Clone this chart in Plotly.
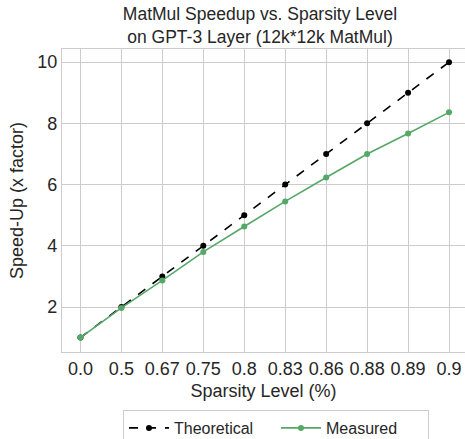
import plotly.graph_objects as go

sparsity_labels = ["0.0", "0.5", "0.67", "0.75", "0.8", "0.83", "0.86", "0.88", "0.89", "0.9"]
theoretical = [1, 2, 3, 4, 5, 6, 7, 8, 9, 10]
measured = [1.0, 1.97, 2.87, 3.80, 4.63, 5.45, 6.23, 7.0, 7.67, 8.36]

FONT = "Liberation Sans, Arial, sans-serif"
GRID = "#cccccc"
TXT = "#262626"
H = 439

fig = go.Figure()
fig.add_trace(go.Scatter(
    x=sparsity_labels, y=theoretical, name="Theoretical", mode="lines+markers",
    line=dict(color="black", width=1.6, dash="dash"),
    marker=dict(color="black", size=6),
))
fig.add_trace(go.Scatter(
    x=sparsity_labels, y=measured, name="Measured", mode="lines+markers",
    line=dict(color="#55a868", width=1.6),
    marker=dict(color="#55a868", size=6),
))

fig.update_layout(
    width=465, height=H,
    margin=dict(l=62, r=0, t=49, b=87, autoexpand=False),
    paper_bgcolor="white", plot_bgcolor="white",
    font=dict(family=FONT, color=TXT, size=18),
    title=dict(
        text="MatMul Speedup vs. Sparsity Level<br>on GPT-3 Layer (12k*12k MatMul)",
        x=260 / 465, xanchor="center", xref="container",
        y=1 - 20 / H, yanchor="top", yref="container",
        font=dict(size=17.5, color=TXT),
    ),
    showlegend=True,
    legend=dict(
        orientation="h", x=(123 - 62) / 403, xanchor="left", xref="paper",
        y=(H - 410) / H, yanchor="top", yref="container",
        bordercolor=GRID, borderwidth=1, bgcolor="white",
        font=dict(size=16, color=TXT),
        itemwidth=40, entrywidth=97,
    ),
    xaxis=dict(
        type="category", range=[-0.45, 9.39], automargin=False,
        showgrid=True, gridcolor=GRID, gridwidth=1.2,
        showline=True, linecolor=GRID, linewidth=1.2, mirror=True,
        ticks="", tickfont=dict(size=18),
        title=dict(text="Sparsity Level (%)", font=dict(size=18), standoff=6),
        zeroline=False,
    ),
    yaxis=dict(
        range=[0.53, 10.43], automargin=False,
        tickvals=[2, 4, 6, 8, 10],
        showgrid=True, gridcolor=GRID, gridwidth=1.2,
        showline=True, linecolor=GRID, linewidth=1.2, mirror=True,
        ticks="", tickfont=dict(size=18),
        title=dict(text="Speed-Up (x factor)", font=dict(size=18), standoff=8),
        zeroline=False,
    ),
)

fig.write_html("out.html", config={"displayModeBar": False},
               post_script="document.body.style.margin='0';")
